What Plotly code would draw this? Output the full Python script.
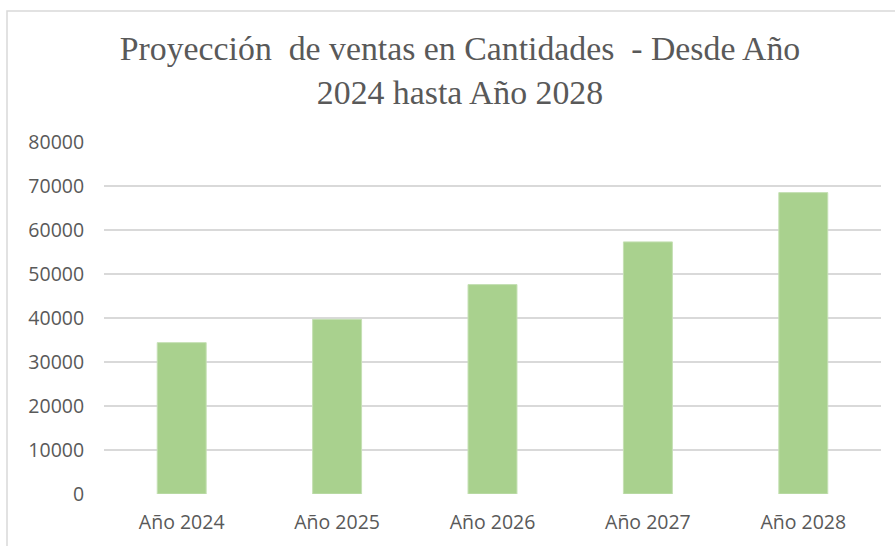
import plotly.graph_objects as go

categories = ["Año 2024", "Año 2025", "Año 2026", "Año 2027", "Año 2028"]
values = [34400, 39700, 47600, 57300, 68500]
y_ticks = [0, 10000, 20000, 30000, 40000, 50000, 60000, 70000, 80000]

W, H = 895, 546
L, R, T, B = 104, 14, 142, 52
pw = W - L - R
ph = H - T - B

fig = go.Figure(go.Bar(
    x=categories, y=values,
    marker=dict(color="#a9d18e", line=dict(color="#c5e0b4", width=1)),
))

fig.update_layout(
    width=W, height=H,
    margin=dict(l=L, r=R, t=T, b=B),
    paper_bgcolor="white", plot_bgcolor="white",
    bargap=0.685,
    showlegend=False,
    title=dict(
        text="Proyección  de ventas en Cantidades  - Desde Año<br>2024 hasta Año 2028",
        font=dict(family="Liberation Serif", size=33.8, color="#595959"),
        x=460 / W, xanchor="center", xref="container",
        y=1 - 60 / H, yanchor="top", yref="container",
    ),
    xaxis=dict(
        showgrid=False, zeroline=False, showline=False,
        ticks="outside", ticklen=11, tickcolor="rgba(0,0,0,0)",
        tickfont=dict(family="Open Sans", size=19.5, color="#595959"),
    ),
    yaxis=dict(
        range=[0, 80000], tickvals=y_ticks, ticktext=[str(v) for v in y_ticks],
        showgrid=True, gridcolor="#d9d9d9", gridwidth=1.5,
        zeroline=False, showline=False,
        ticks="outside", ticklen=15, tickcolor="rgba(0,0,0,0)",
        tickfont=dict(family="Open Sans", size=19.5, color="#595959"),
    ),
    shapes=[dict(
        type="rect", xref="paper", yref="paper",
        x0=(7 - L) / pw, x1=(W + 10 - L) / pw,
        y0=(H - B - (H + 10)) / ph, y1=(H - B - 11) / ph,
        line=dict(color="#d9d9d9", width=1.5), fillcolor="rgba(0,0,0,0)",
        layer="below",
    )],
)

fig.write_html("out.html")
